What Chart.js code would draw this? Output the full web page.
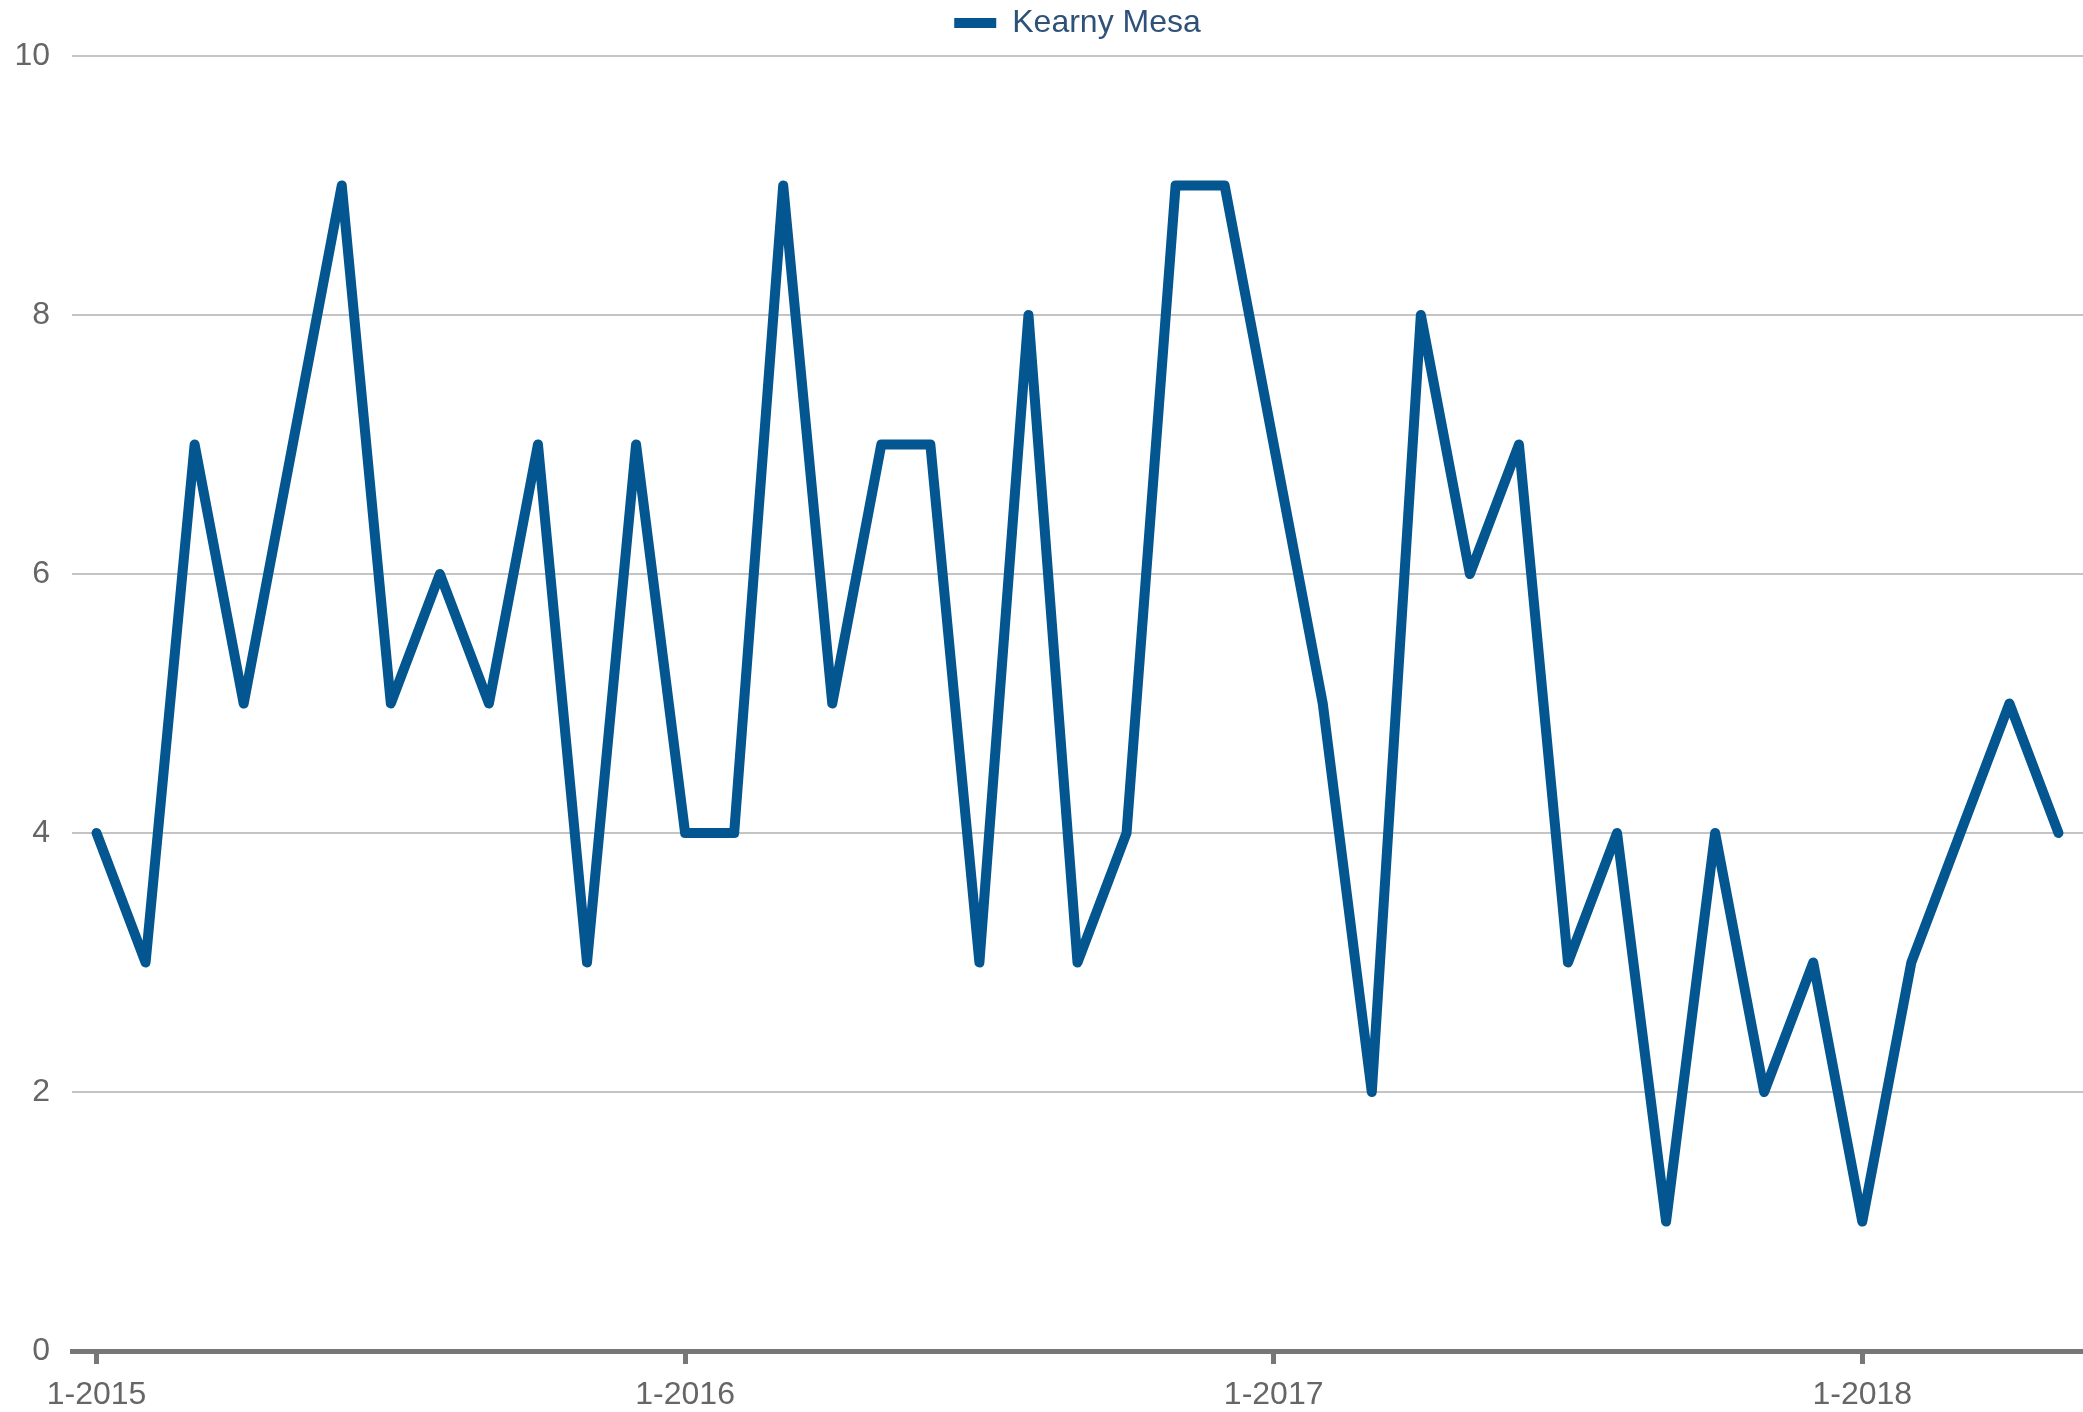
<!DOCTYPE html>
<html>
<head>
<meta charset="utf-8">
<title>Kearny Mesa</title>
<script src="https://cdn.jsdelivr.net/npm/chart.js@4/dist/chart.umd.min.js"></script>
<style>
    html, body { margin: 0; padding: 0; background: #fff; }
    #wrap { width: 2083px; height: 1412px; }
</style>
</head>
<body>
<div id="wrap"><canvas id="lineChart"></canvas></div>
<script>
/* =========================
   DATA
========================= */

const months = [
    "1-2015", "2-2015", "3-2015", "4-2015", "5-2015", "6-2015",
    "7-2015", "8-2015", "9-2015", "10-2015", "11-2015", "12-2015",
    "1-2016", "2-2016", "3-2016", "4-2016", "5-2016", "6-2016",
    "7-2016", "8-2016", "9-2016", "10-2016", "11-2016", "12-2016",
    "1-2017", "2-2017", "3-2017", "4-2017", "5-2017", "6-2017",
    "7-2017", "8-2017", "9-2017", "10-2017", "11-2017", "12-2017",
    "1-2018", "2-2018", "3-2018", "4-2018", "5-2018"
];

const kearnyMesa = [
    4, 3, 7, 5, 7, 9, 5, 6, 5, 7, 3, 7,
    4, 4, 9, 5, 7, 7, 3, 8, 3, 4, 9, 9,
    7, 5, 2, 8, 6, 7, 3, 4, 1, 4, 2, 3,
    1, 3, 4, 5, 4
];

const yTicks = [0, 2, 4, 6, 8, 10];

const seriesName = "Kearny Mesa";


/* =========================
   STYLE
========================= */

const LINE_BLUE = "#03568f";
const AXIS_GREY = "#777777";
const FONT = "'Liberation Sans', Arial, sans-serif";
const FONT_SIZE = 32;


/* =========================
   LEGEND SPACING PLUGIN
   (extra gap under the legend)
========================= */

const legendGap = {
    id: "legendGap",
    beforeInit(chart) {
        const fit = chart.legend.fit;
        chart.legend.fit = function () {
            fit.bind(chart.legend)();
            this.height += 7;
        };
    }
};


/* =========================
   RENDER
========================= */

document.addEventListener("DOMContentLoaded", () => {
    renderLineChart();
});

function renderLineChart() {
    const ctx = document.getElementById("lineChart");
    if (!ctx || typeof Chart === "undefined") return;

    new Chart(ctx, {
        type: "line",
        plugins: [legendGap],
        data: {
            labels: months,
            datasets: [{
                label: seriesName,
                data: kearnyMesa,
                borderColor: LINE_BLUE,
                backgroundColor: LINE_BLUE,
                borderWidth: 10,
                borderJoinStyle: "round",
                borderCapStyle: "round",
                pointRadius: 0,
                tension: 0
            }]
        },
        options: {
            responsive: true,
            maintainAspectRatio: false,
            animation: false,
            layout: {
                padding: { left: 0, right: 0, top: 0, bottom: 0 }
            },
            plugins: {
                tooltip: { enabled: false },
                legend: {
                    position: "top",
                    fullSize: false,
                    labels: {
                        boxWidth: 42,
                        boxHeight: 10,
                        padding: 7,
                        color: "#2e5277",
                        font: { family: FONT, size: FONT_SIZE },
                        generateLabels: (chart) => {
                            return Chart.defaults.plugins.legend.labels.generateLabels(chart)
                                .map(item => Object.assign(item, { lineWidth: 0 }));
                        }
                    }
                }
            },
            scales: {
                x: {
                    type: "category",
                    offset: true,
                    grid: {
                        display: true,
                        drawOnChartArea: false,
                        tickLength: 13,
                        tickWidth: 5,
                        tickColor: AXIS_GREY
                    },
                    border: { display: true, color: AXIS_GREY, width: 5 },
                    afterBuildTicks: (scale) => {
                        scale.ticks = scale.ticks.filter(t => months[t.value].startsWith("1-"));
                    },
                    afterFit: (scale) => {
                        scale.height = 61;
                        scale.paddingLeft = 0;
                        scale.paddingRight = 0;
                    },
                    ticks: {
                        autoSkip: false,
                        maxRotation: 0,
                        padding: 12,
                        color: "#666666",
                        font: { family: FONT, size: FONT_SIZE }
                    }
                },
                y: {
                    min: 0,
                    max: 10,
                    afterBuildTicks: (scale) => {
                        scale.ticks = yTicks.map(v => ({ value: v }));
                    },
                    afterFit: (scale) => {
                        scale.width = 72;
                    },
                    grid: {
                        color: "#c4c4c4",
                        lineWidth: 2,
                        drawTicks: false
                    },
                    border: { display: false },
                    ticks: {
                        padding: 22,
                        color: "#666666",
                        font: { family: FONT, size: FONT_SIZE }
                    }
                }
            }
        }
    });
}
</script>
</body>
</html>
